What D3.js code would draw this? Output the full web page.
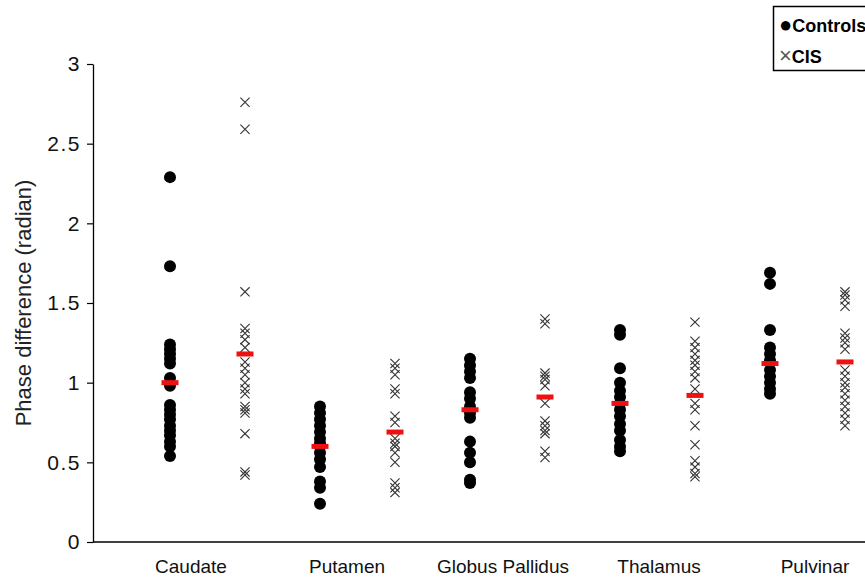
<!DOCTYPE html>
<html>
<head>
<meta charset="utf-8">
<script src="https://cdn.jsdelivr.net/npm/d3@7"></script>
<style>
  html, body { margin: 0; padding: 0; background: #fff; }
  svg { display: block; }
  text { font-family: "Liberation Sans", Arial, sans-serif; }
</style>
</head>
<body>
<svg id="chart" width="865" height="579"></svg>
<script>
// ---- data ----
const categories = ["Caudate", "Putamen", "Globus Pallidus", "Thalamus", "Pulvinar"];
const groups = ["Controls", "CIS"];
const yTicks = [0, 0.5, 1, 1.5, 2, 2.5, 3];

const controlsCaudate = [2.29, 1.73, 1.24, 1.21, 1.18, 1.15, 1.12, 1.03, 0.98, 0.86, 0.83, 0.80, 0.77, 0.73, 0.70, 0.67, 0.63, 0.60, 0.54];
const cisCaudate      = [2.76, 2.59, 1.57, 1.34, 1.31, 1.27, 1.22, 1.13, 1.09, 1.05, 1.00, 0.96, 0.93, 0.85, 0.83, 0.81, 0.68, 0.44, 0.42];
const controlsPutamen = [0.85, 0.81, 0.77, 0.73, 0.69, 0.65, 0.62, 0.60, 0.56, 0.52, 0.47, 0.38, 0.34, 0.24];
const cisPutamen      = [1.12, 1.09, 1.05, 0.96, 0.93, 0.79, 0.75, 0.65, 0.62, 0.60, 0.56, 0.50, 0.37, 0.34, 0.31];
const controlsGP      = [1.15, 1.11, 1.07, 1.03, 0.94, 0.90, 0.85, 0.81, 0.78, 0.63, 0.56, 0.50, 0.39, 0.37];
const cisGP           = [1.40, 1.37, 1.06, 1.04, 1.02, 0.98, 0.87, 0.76, 0.73, 0.70, 0.68, 0.57, 0.53];
const controlsThal    = [1.33, 1.30, 1.09, 1.00, 0.95, 0.91, 0.87, 0.83, 0.79, 0.74, 0.70, 0.64, 0.60, 0.57];
const cisThal         = [1.38, 1.26, 1.22, 1.18, 1.14, 1.11, 1.07, 1.03, 0.96, 0.87, 0.83, 0.73, 0.61, 0.51, 0.47, 0.43, 0.41];
const controlsPulv    = [1.69, 1.62, 1.33, 1.22, 1.18, 1.14, 1.08, 1.04, 1.00, 0.96, 0.93];
const cisPulv         = [1.57, 1.55, 1.52, 1.48, 1.31, 1.28, 1.25, 1.21, 1.08, 1.04, 1.00, 0.97, 0.93, 0.89, 0.85, 0.81, 0.77, 0.73];

const controlsMedians = [1.00, 0.60, 0.83, 0.87, 1.12];
const cisMedians      = [1.18, 0.69, 0.91, 0.92, 1.13];

const controlsSeries = [controlsCaudate, controlsPutamen, controlsGP, controlsThal, controlsPulv];
const cisSeries      = [cisCaudate, cisPutamen, cisGP, cisThal, cisPulv];

// ---- chart ----
const svg = d3.select("#chart");
const W = 865, H = 579;
const margin = { left: 93, top: 64, bottom: 37 };

const y = d3.scaleLinear().domain([0, 3]).range([H - margin.bottom, margin.top]);

const slots = [];
categories.forEach(c => groups.forEach(g => slots.push(c + "|" + g)));
const x = d3.scalePoint().domain(slots).range([170, 845]);
const xLabel = d3.scaleBand().domain(categories).range([113, 893]);

// y axis
const yAxis = svg.append("g")
  .attr("transform", `translate(${margin.left},0)`)
  .call(d3.axisLeft(y).tickValues(yTicks).tickSize(6).tickSizeOuter(0).tickPadding(6)
        .tickFormat(d => String(d)));
yAxis.select(".domain").attr("stroke", "#000").attr("stroke-width", 1.3);
yAxis.selectAll(".tick line").attr("stroke", "#000").attr("stroke-width", 1.2);
yAxis.selectAll(".tick text")
  .attr("font-size", 21).attr("fill", "#111")
  .attr("letter-spacing", 1.5)
  .style("font-family", '"Liberation Sans", Arial, sans-serif');

// x axis line
svg.append("line")
  .attr("x1", margin.left).attr("x2", W)
  .attr("y1", y(0)).attr("y2", y(0))
  .attr("stroke", "#000").attr("stroke-width", 1.5);

// category labels
svg.append("g").selectAll("text").data(categories).join("text")
  .attr("x", d => xLabel(d) + xLabel.bandwidth() / 2)
  .attr("y", y(0) + 31)
  .attr("text-anchor", "middle")
  .attr("font-size", 19)
  .attr("fill", "#111")
  .text(d => d);

// y title
svg.append("text")
  .attr("transform", `translate(31,${(y(0) + y(3)) / 2}) rotate(-90)`)
  .attr("text-anchor", "middle")
  .attr("font-size", 22)
  .attr("fill", "#222")
  .text("Phase difference (radian)");

// controls dots
const dotsG = svg.append("g");
categories.forEach((c, i) => {
  dotsG.selectAll(null).data(controlsSeries[i]).join("circle")
    .attr("cx", x(c + "|Controls"))
    .attr("cy", d => y(d))
    .attr("r", 6)
    .attr("fill", "#000");
});

// CIS crosses
const s = 4.6;
const crossPath = `M${-s},${-s}L${s},${s}M${-s},${s}L${s},${-s}`;
const crossG = svg.append("g");
categories.forEach((c, i) => {
  crossG.selectAll(null).data(cisSeries[i]).join("path")
    .attr("transform", d => `translate(${x(c + "|CIS")},${y(d)})`)
    .attr("d", crossPath)
    .attr("fill", "none")
    .attr("stroke", "#333")
    .attr("stroke-width", 1.1);
});

// medians
const medG = svg.append("g");
categories.forEach((c, i) => {
  [["Controls", controlsMedians[i]], ["CIS", cisMedians[i]]].forEach(([g, m]) => {
    medG.append("rect")
      .attr("x", x(c + "|" + g) - 8.5)
      .attr("y", y(m) - 2.5)
      .attr("width", 17).attr("height", 5)
      .attr("fill", "#ee1111");
  });
});

// legend
const lg = svg.append("g");
lg.append("rect")
  .attr("x", 773.5).attr("y", 6.5)
  .attr("width", 120).attr("height", 64)
  .attr("fill", "#fff").attr("stroke", "#000").attr("stroke-width", 1.5);
const t1 = lg.append("text")
  .attr("x", 779).attr("y", 32)
  .attr("font-size", 18).attr("font-weight", "bold").attr("fill", "#000");
t1.append("tspan").attr("font-size", 22).attr("font-weight", "normal").text("●");
t1.append("tspan").text("Controls");
const t2 = lg.append("text")
  .attr("x", 779).attr("y", 63)
  .attr("font-size", 18).attr("fill", "#000");
t2.append("tspan").attr("fill", "#555").attr("font-size", 22).text("×");
t2.append("tspan").attr("font-weight", "bold").text("CIS");
</script>
</body>
</html>
